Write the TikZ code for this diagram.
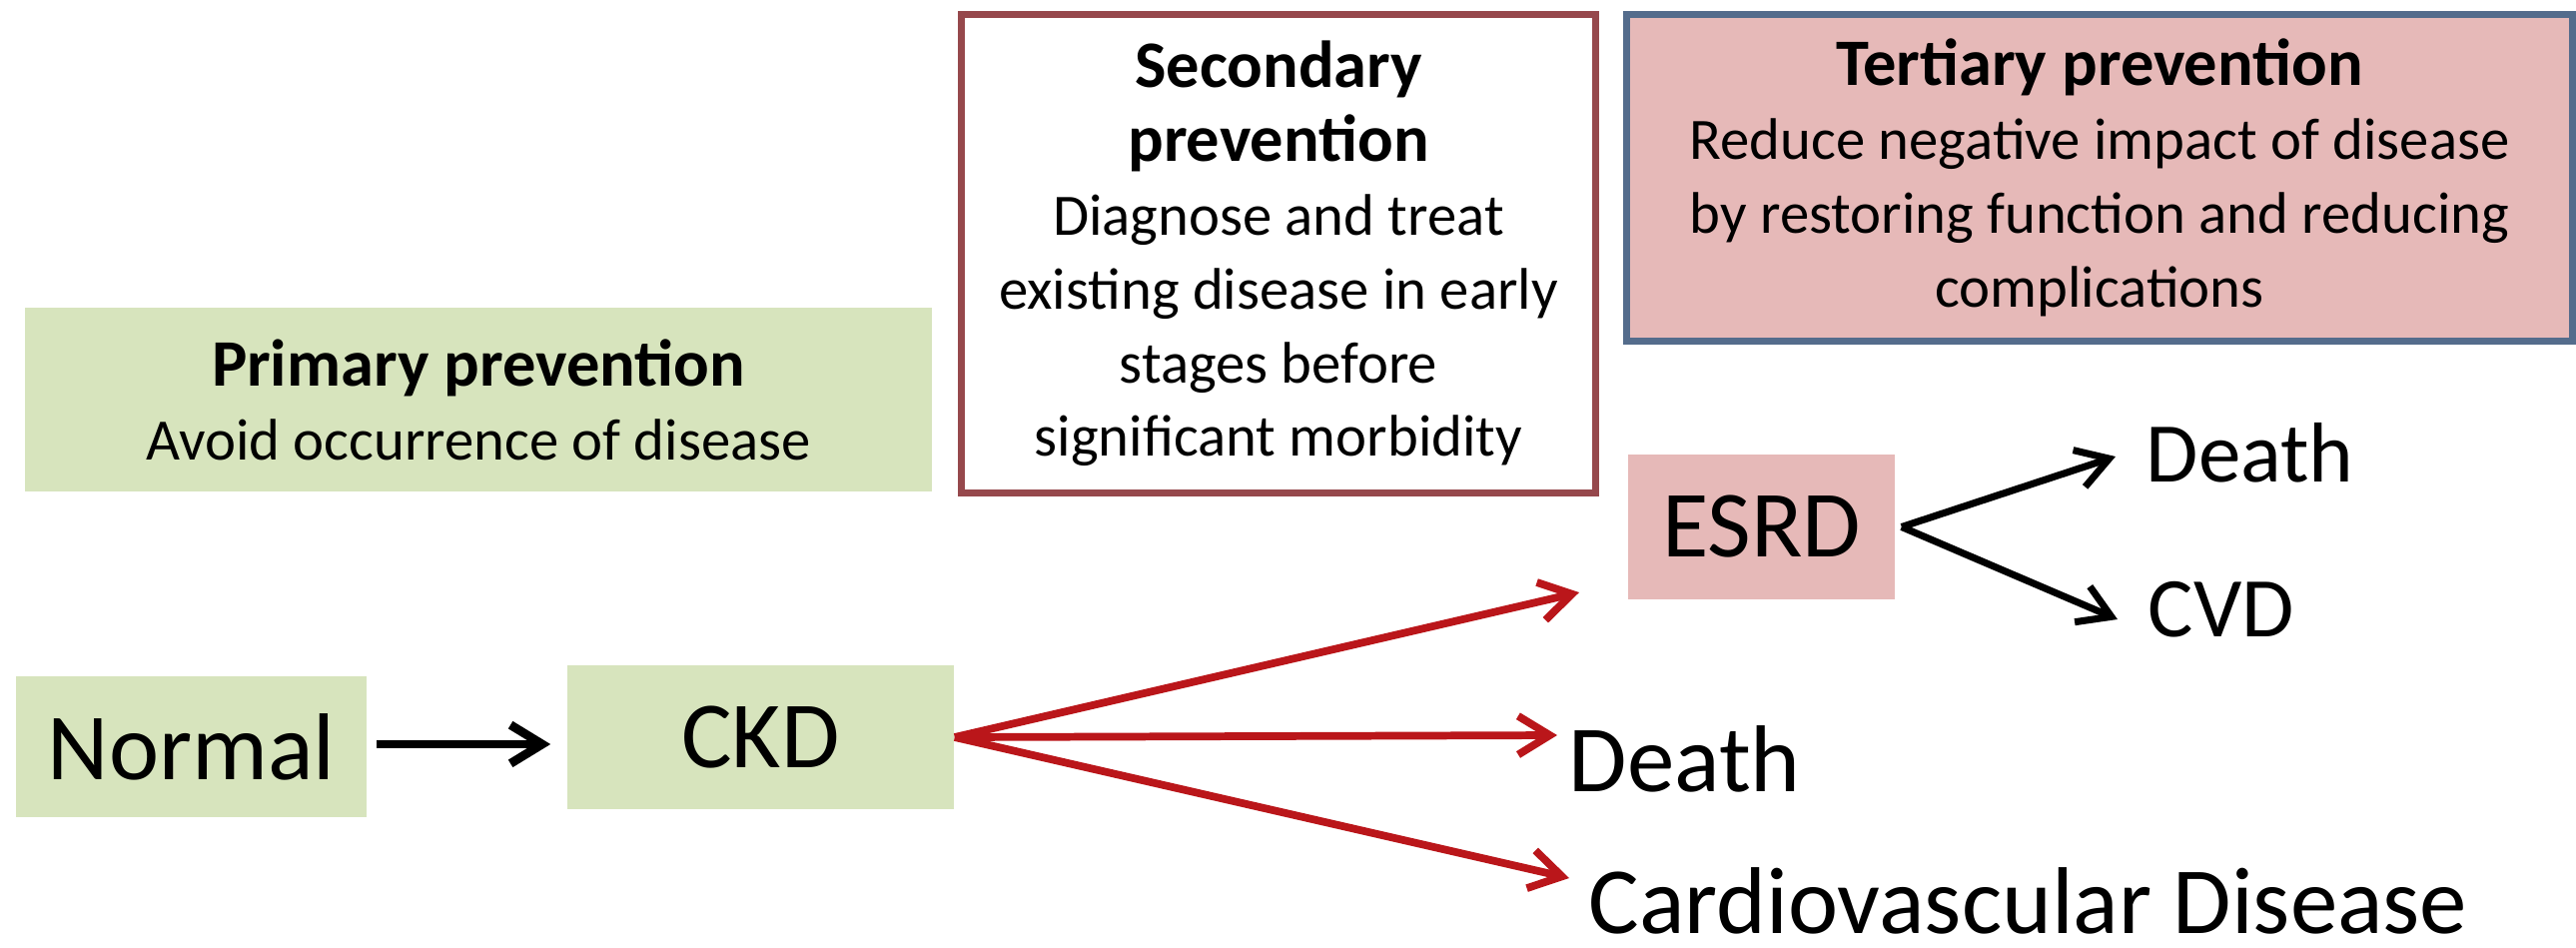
\documentclass[tikz,border=0pt]{standalone}
\usepackage{fontspec}
\setmainfont{Carlito}
\usetikzlibrary{arrows.meta}
\definecolor{leafgreen}{RGB}{215,228,189}
\definecolor{rosepink}{RGB}{230,185,184}
\definecolor{brickred}{RGB}{150,72,76}
\definecolor{slateblue}{RGB}{84,108,140}
\definecolor{arrowred}{RGB}{186,22,26}
\newcommand{\boxtitle}[1]{{\fontsize{18.9}{21}\bfseries\selectfont #1}}
\tikzset{
  notebox/.style={inner sep=0pt, align=center, font=\fontsize{16.7}{21}\selectfont},
  stagebox/.style={inner sep=0pt, font=\fontsize{27}{32}\selectfont},
  outcome/.style={inner sep=0pt, anchor=base west, font=\fontsize{27}{32}\selectfont},
  suboutcome/.style={inner sep=0pt, anchor=base west, font=\fontsize{24.2}{29}\selectfont},
  blackarrow/.style={line width=2.5pt, -{Straight Barb[length=9pt,width=11pt]}},
  redarrow/.style={arrowred, line width=2.2pt, -{Straight Barb[length=9pt,width=11pt]}},
}

\begin{document}
\begin{tikzpicture}[x=0.01cm, y=-0.01cm]
  \useasboundingbox (0,0) rectangle (2579,948);

  % prevention boxes
  \node[notebox, fill=leafgreen, minimum width=9.08cm, minimum height=1.84cm] (primary) at (479,400)
       {\boxtitle{Primary prevention}\\Avoid occurrence of disease};
  \node[notebox, fill=white, draw=brickred, line width=2pt, minimum width=6.34cm, minimum height=4.78cm] (secondary) at (1280,254)
       {\boxtitle{Secondary}\\\boxtitle{prevention}\\Diagnose and treat\\existing disease in early\\stages before\\significant morbidity};
  \node[notebox, fill=rosepink, draw=slateblue, line width=2pt, minimum width=9.46cm, minimum height=3.26cm] (tertiary) at (2102,178)
       {\boxtitle{Tertiary prevention}\\Reduce negative impact of disease\\by restoring function and reducing\\complications};

  % disease course
  \node[stagebox, fill=leafgreen, minimum width=3.51cm, minimum height=1.41cm] (normal) at (191.5,747.5) {Normal};
  \node[stagebox, fill=leafgreen, minimum width=3.87cm, minimum height=1.44cm] (ckd) at (761.5,738) {CKD};
  \node[stagebox, fill=rosepink, minimum width=2.67cm, minimum height=1.45cm] (esrd) at (1763.5,527.5) {ESRD};
  \node[outcome] (death) at (1570,792) {Death};
  \node[outcome] (cardio) at (1590,934) {Cardiovascular Disease};
  \node[suboutcome] (esrddeath) at (2148,482) {Death};
  \node[suboutcome] (esrdcvd) at (2150,637) {CVD};

  \coordinate (toesrd) at (1581,593);
  \coordinate (todeath) at (1559,736);
  \coordinate (tocardio) at (1571,879);
  \coordinate (todeathb) at (2118,457);
  \coordinate (tocvd) at (2120,620);

  \draw[blackarrow, shorten <=0.9mm, shorten >=1.6mm] (normal.east |- 0,745) -- (ckd.west |- 0,745);
  \draw[redarrow] (ckd.east) -- (toesrd);
  \draw[redarrow] (ckd.east) -- (todeath);
  \draw[redarrow] (ckd.east) -- (tocardio);
  \draw[blackarrow, line width=2pt] ([xshift=0.6mm]esrd.east) -- (todeathb);
  \draw[blackarrow, line width=2pt] ([xshift=0.6mm]esrd.east) -- (tocvd);
\end{tikzpicture}
\end{document}
